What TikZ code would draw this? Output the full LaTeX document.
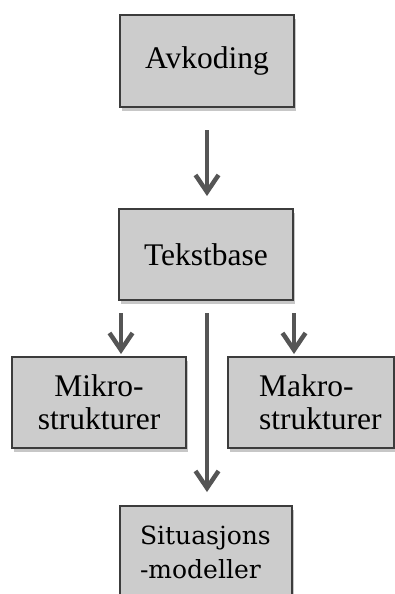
\documentclass[tikz,border=0pt]{standalone}
\usepackage{fontspec}
\setmainfont{Liberation Serif}
\newfontfamily\situfont{DejaVu Serif}
\usetikzlibrary{arrows.meta,shadows}
\definecolor{boxgray}{HTML}{CCCCCC}
\definecolor{bordergray}{HTML}{3C3C3C}
\definecolor{arrowgray}{HTML}{555555}
\tikzset{
  box/.style={draw=bordergray, line width=2pt, fill=boxgray, inner sep=0pt,
    minimum width=174pt, minimum height=92pt,
    font=\fontsize{31.5}{33}\selectfont, align=center,
    drop shadow={shadow xshift=2pt, shadow yshift=-4pt, fill=black, opacity=0.22}},
  txt/.style={inner sep=0pt, font=\fontsize{31.5}{33}\selectfont},
  arr/.style={draw=arrowgray, line width=4.5pt,
    -{Straight Barb[length=17pt,width=23pt]}}
}
\begin{document}
\begin{tikzpicture}[x=1pt,y=-1pt]
\clip (0,0) rectangle (395,594);
\fill[white] (0,0) rectangle (395,594);
\node[box] (av) at (207,61) {Avkoding};
\node[box, minimum height=91pt] (tek) at (206,254.5) {Tekstbase};
\node[box, minimum height=91pt] (mikro) at (99,402.5) {Mikro-\\strukturer};
\node[box, minimum height=91pt, minimum width=166pt] (makro) at (311,402.5) {};
\node[txt, align=left, anchor=west] (makrot) at (259,402.5) {Makro-\\strukturer};
\node[box, minimum width=172pt, minimum height=92pt, align=left,
  font=\situfont\fontsize{25}{34}\selectfont, text width=132pt] (situ) at (206,552)
  {Situasjons\\-modeller};
\draw[arr, shorten <=22pt, shorten >=12pt] (av.south) -- (tek.north -| av.south);
\coordinate (l0) at ([xshift=3pt,yshift=-12pt]tek.south west);
\coordinate (r0) at ([yshift=-12pt]tek.south east);
\coordinate (m0) at ([xshift=1pt,yshift=-12pt]tek.south);
\draw[arr, shorten >=2pt] (l0) -- (l0 |- mikro.north);
\draw[arr, shorten >=2pt] (r0) -- (r0 |- makro.north);
\draw[arr, shorten >=13pt] (m0) -- (m0 |- situ.north);
\end{tikzpicture}
\end{document}
